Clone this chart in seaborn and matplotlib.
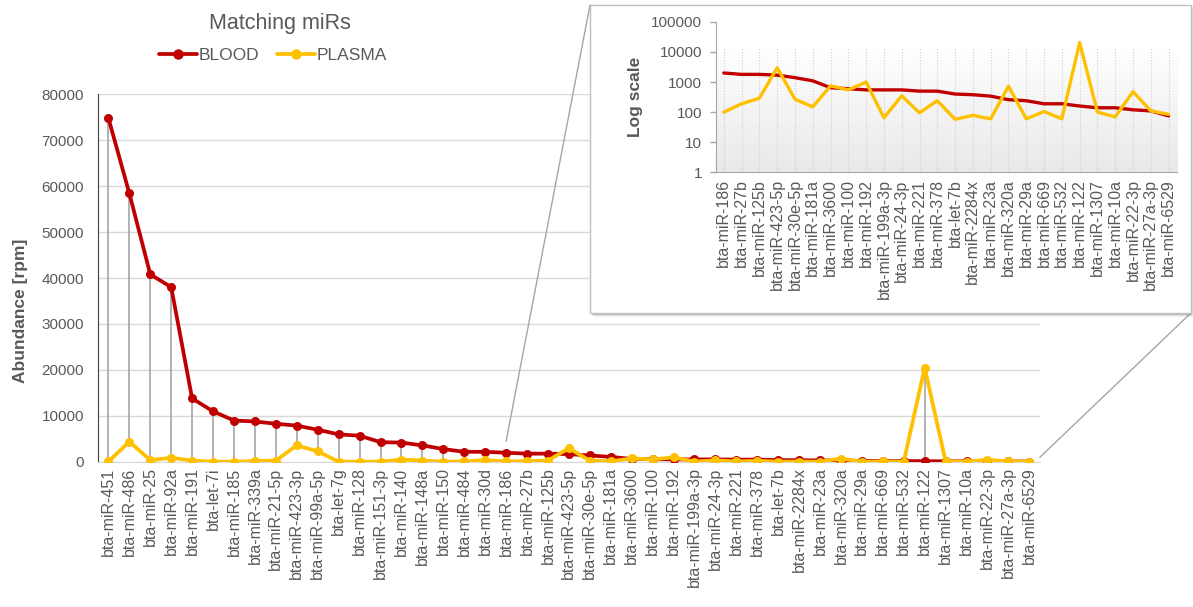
# %% Matching miRs: blood vs plasma abundance, with log-scale inset
import numpy as np
import pandas as pd
import matplotlib.pyplot as plt
import seaborn as sns
from matplotlib.colors import LinearSegmentedColormap
from matplotlib.patches import Rectangle, ConnectionPatch
from matplotlib.ticker import FuncFormatter, LogLocator, NullLocator

# %%
# Values (rpm)
mirs = ['bta-miR-451', 'bta-miR-486', 'bta-miR-25', 'bta-miR-92a', 'bta-miR-191',
        'bta-let-7i', 'bta-miR-185', 'bta-miR-339a', 'bta-miR-21-5p', 'bta-miR-423-3p',
        'bta-miR-99a-5p', 'bta-let-7g', 'bta-miR-128', 'bta-miR-151-3p', 'bta-miR-140',
        'bta-miR-148a', 'bta-miR-150', 'bta-miR-484', 'bta-miR-30d', 'bta-miR-186',
        'bta-miR-27b', 'bta-miR-125b', 'bta-miR-423-5p', 'bta-miR-30e-5p', 'bta-miR-181a',
        'bta-miR-3600', 'bta-miR-100', 'bta-miR-192', 'bta-miR-199a-3p', 'bta-miR-24-3p',
        'bta-miR-221', 'bta-miR-378', 'bta-let-7b', 'bta-miR-2284x', 'bta-miR-23a',
        'bta-miR-320a', 'bta-miR-29a', 'bta-miR-669', 'bta-miR-532', 'bta-miR-122',
        'bta-miR-1307', 'bta-miR-10a', 'bta-miR-22-3p', 'bta-miR-27a-3p', 'bta-miR-6529']
blood = [74800, 58400, 40800, 38000, 13800, 11000, 9000, 8800, 8300, 7900,
         7000, 6000, 5700, 4300, 4200, 3600, 2800, 2200, 2200, 2000,
         1800, 1800, 1700, 1400, 1100, 650, 600, 550, 550, 550,
         500, 500, 400, 380, 340, 260, 240, 190, 190, 160,
         140, 140, 120, 110, 75]
plasma = [100, 4400, 400, 900, 300, 50, 50, 200, 300, 3600,
          2300, 50, 50, 50, 500, 300, 80, 100, 400, 100,
          190, 290, 3000, 270, 150, 750, 550, 1000, 65, 350,
          95, 240, 58, 78, 60, 730, 60, 105, 60, 20500,
          100, 70, 480, 110, 85]
inset_first = 'bta-miR-186'

# %%
df = pd.DataFrame({'pos': np.arange(len(mirs)), 'mir': mirs, 'BLOOD': blood, 'PLASMA': plasma})
long_df = df.melt(id_vars=['pos', 'mir'], value_vars=['BLOOD', 'PLASMA'],
                  var_name='tissue', value_name='rpm')
palette = {'BLOOD': '#C00000', 'PLASMA': '#FFC000'}
text_col = '#595959'

sns.set_style('white')
plt.rcParams['font.family'] = ['Liberation Sans', 'DejaVu Sans']

fig = plt.figure(figsize=(11.93, 6.07), dpi=100)

# %%
# Main chart
ax = fig.add_axes([0.0821, 0.239, 0.7895, 0.606])
ax.vlines(df['pos'], df[['BLOOD', 'PLASMA']].min(axis=1), df[['BLOOD', 'PLASMA']].max(axis=1),
          color='#A6A6A6', lw=1.2, zorder=1)
sns.lineplot(data=long_df, x='pos', y='rpm', hue='tissue', palette=palette,
             marker='o', markersize=6.5, markeredgewidth=0, linewidth=2.7,
             legend=False, ax=ax, zorder=3)
ax.set_xlim(-0.5, len(mirs) - 0.5)
ax.set_ylim(0, 80000)
ax.set_yticks(range(0, 80001, 10000))
ax.set_xticks(df['pos'])
ax.set_xticklabels(mirs, rotation=90, fontsize=11.5, color=text_col)
ax.tick_params(axis='y', labelsize=11, labelcolor=text_col, length=4, width=1,
               color='#404040', pad=6)
ax.tick_params(axis='x', length=0, pad=4)
ax.grid(axis='y', color='#D9D9D9', lw=1)
ax.set_axisbelow(True)
for side in ['top', 'right']:
    ax.spines[side].set_visible(False)
ax.spines['left'].set_color('#404040')
ax.spines['bottom'].set_color('#D9D9D9')
ax.set_xlabel('')
ax.set_ylabel('Abundance [rpm]', fontsize=12.5, fontweight='bold', color=text_col)
ax.yaxis.set_label_coords(-0.074, 0.41)

fig.text(0.235, 0.962, 'Matching miRs', ha='center', va='center', fontsize=15.5, color=text_col)
handles = [plt.Line2D([], [], color=palette[k], lw=2.7, marker='o', markersize=6.5) for k in palette]
fig.legend(handles, list(palette), loc='center', bbox_to_anchor=(0.229, 0.908), ncol=2,
           frameon=False, fontsize=12.5, labelcolor=text_col, handlelength=2.2,
           handletextpad=0.1, columnspacing=1.0)

# %%
# Inset box with drop shadow
box_x0, box_y0, box_w, box_h = 0.4946, 0.484, 0.5035, 0.508
for off, alpha in [(0.006, 0.10), (0.004, 0.18), (0.0025, 0.30)]:
    fig.add_artist(Rectangle((box_x0 + off * 0.5, box_y0 - off), box_w, box_h,
                             transform=fig.transFigure, facecolor='#808080',
                             edgecolor='none', alpha=alpha, zorder=5))
fig.add_artist(Rectangle((box_x0, box_y0), box_w, box_h, transform=fig.transFigure,
                         facecolor='white', edgecolor='#BFBFBF', lw=1, zorder=6))

# Connector lines from main chart to the inset box
i0 = mirs.index(inset_first)
con1 = ConnectionPatch(xyA=(i0, blood[i0] + 2500), coordsA=ax.transData,
                       xyB=(box_x0, box_y0 + box_h), coordsB=fig.transFigure,
                       color='#A6A6A6', lw=1, zorder=4)
con2 = ConnectionPatch(xyA=(len(mirs) - 0.5, 1000), coordsA=ax.transData,
                       xyB=(box_x0 + box_w, box_y0), coordsB=fig.transFigure,
                       color='#A6A6A6', lw=1, zorder=4)
fig.add_artist(con1)
fig.add_artist(con2)

# %%
# Log-scale inset
sub_df = long_df[long_df['pos'] >= i0].copy()
sub_df['pos'] = sub_df['pos'] - i0
sub_mirs = mirs[i0:]

axi = fig.add_axes([0.600, 0.716, 0.387, 0.248], zorder=7)
axi.set_facecolor('none')
axi.set_yscale('log')
# soft gradient background, white on top fading to light grey
grad = np.linspace(0, 1, 256).reshape(-1, 1)
fade = LinearSegmentedColormap.from_list('fade', ['#FFFFFF', '#E9E9E9'])
axi.imshow(grad, extent=[0, 1, 0, 0.83], transform=axi.transAxes, aspect='auto',
           cmap=fade, origin='upper', zorder=0)
for p in range(len(sub_mirs)):
    axi.axvline(p, ymax=0.83, color='#CFCFCF', lw=0.8, ls=(0, (1, 1.5)), zorder=1)
sns.lineplot(data=sub_df, x='pos', y='rpm', hue='tissue', palette=palette,
             linewidth=2.4, legend=False, ax=axi, zorder=3)
axi.set_xlim(-0.45, len(sub_mirs) - 0.5)
axi.set_ylim(1, 100000)
axi.yaxis.set_major_locator(LogLocator(base=10, numticks=10))
axi.yaxis.set_minor_locator(NullLocator())
axi.yaxis.set_major_formatter(FuncFormatter(lambda v, _: f'{v:.0f}'))
axi.set_xticks(range(len(sub_mirs)))
axi.set_xticklabels(sub_mirs, rotation=90, fontsize=11.5, color=text_col)
axi.tick_params(axis='y', labelsize=11, labelcolor=text_col, length=4, width=1,
                color='#A6A6A6', pad=6, left=True)
axi.tick_params(axis='x', length=0, pad=5)
for side in ['top', 'right']:
    axi.spines[side].set_visible(False)
axi.spines['left'].set_color('#A6A6A6')
axi.spines['bottom'].set_color('#A6A6A6')
axi.set_xlabel('')
axi.set_ylabel('Log scale', fontsize=12.5, fontweight='bold', color=text_col, labelpad=6)

fig.savefig('out.png', dpi=100)
